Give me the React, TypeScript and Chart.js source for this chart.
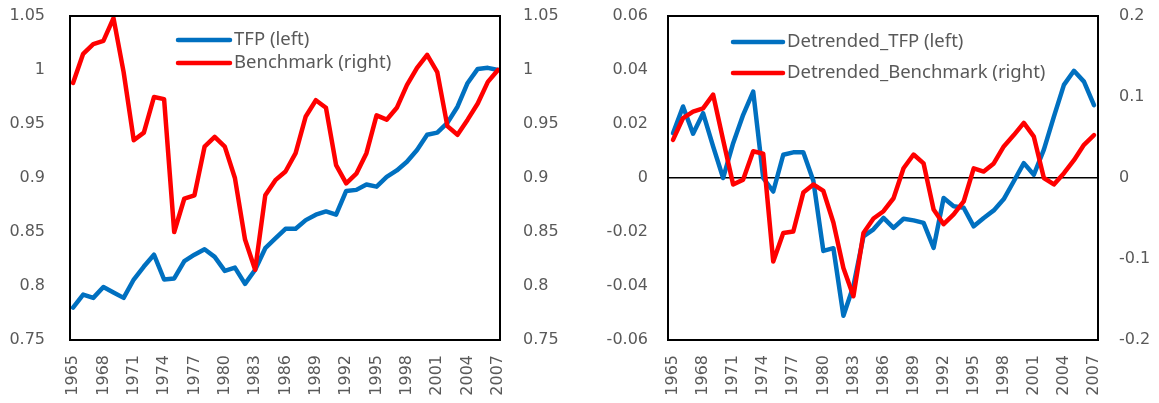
import React, { useEffect, useRef } from 'react';
import { Chart, registerables } from 'chart.js';

Chart.register(...registerables);

const years = [
  1965, 1966, 1967, 1968, 1969, 1970, 1971, 1972, 1973, 1974, 1975, 1976, 1977, 1978, 1979,
  1980, 1981, 1982, 1983, 1984, 1985, 1986, 1987, 1988, 1989, 1990, 1991, 1992, 1993, 1994,
  1995, 1996, 1997, 1998, 1999, 2000, 2001, 2002, 2003, 2004, 2005, 2006, 2007,
];
const tickYears = [1965, 1968, 1971, 1974, 1977, 1980, 1983, 1986, 1989, 1992, 1995, 1998, 2001, 2004, 2007];

const tfp = [
  0.780, 0.792, 0.789, 0.799, 0.794, 0.789, 0.806, 0.818, 0.829, 0.806, 0.807, 0.823, 0.829, 0.834, 0.827,
  0.814, 0.817, 0.802, 0.815, 0.835, 0.844, 0.853, 0.853, 0.861, 0.866, 0.869, 0.866, 0.888, 0.889, 0.894,
  0.892, 0.901, 0.907, 0.915, 0.926, 0.940, 0.942, 0.951, 0.966, 0.988, 1.001, 1.002, 1.000,
];
const benchmark = [
  0.988, 1.015, 1.024, 1.027, 1.048, 0.998, 0.935, 0.942, 0.975, 0.973, 0.850, 0.881, 0.884, 0.929, 0.938,
  0.929, 0.900, 0.843, 0.815, 0.884, 0.898, 0.906, 0.923, 0.957, 0.972, 0.965, 0.912, 0.895, 0.904, 0.923,
  0.958, 0.954, 0.965, 0.986, 1.002, 1.014, 0.998, 0.948, 0.940, 0.954, 0.969, 0.989, 1.000,
];
const detrendedTfp = [
  0.0166, 0.0265, 0.0164, 0.024, 0.0117, 0.0, 0.0129, 0.0234, 0.032, 0.0, -0.005, 0.0086, 0.0095, 0.0095, -0.001,
  -0.027, -0.026, -0.051, -0.040, -0.0216, -0.019, -0.0148, -0.0185, -0.0151, -0.0157, -0.0166, -0.0259, -0.0074, -0.0105, -0.011,
  -0.0179, -0.0148, -0.012, -0.0078, -0.0012, 0.0055, 0.0012, 0.0105, 0.0227, 0.0345, 0.0397, 0.0357, 0.027,
];
const detrendedBenchmark = [
  0.047, 0.074, 0.082, 0.086, 0.103, 0.047, -0.008, -0.002, 0.033, 0.030, -0.103, -0.068, -0.066, -0.018, -0.008,
  -0.016, -0.055, -0.111, -0.146, -0.068, -0.050, -0.041, -0.025, 0.012, 0.029, 0.018, -0.039, -0.057, -0.045, -0.029,
  0.012, 0.008, 0.018, 0.039, 0.053, 0.068, 0.051, 0.000, -0.008, 0.006, 0.022, 0.041, 0.053,
];

const BLUE = '#0070C0';
const RED = '#FF0000';
const TEXT = '#595959';
const TICK_FONT = { family: 'DejaVu Sans', size: 16 };
const LEGEND_FONT = '18.5px "Noto Sans"';

const fmt = (v: number) => String(Number(Number(v).toFixed(2)));

const plotBox = {
  id: 'plotBox',
  afterDatasetsDraw(chart: any) {
    const { ctx, chartArea: a } = chart;
    ctx.save();
    ctx.strokeStyle = '#000';
    ctx.lineWidth = 2;
    ctx.strokeRect(a.left, a.top, a.right - a.left, a.bottom - a.top);
    ctx.restore();
  },
};

const innerLegend = {
  id: 'innerLegend',
  afterDraw(chart: any, _args: any, opts: any) {
    const { ctx } = chart;
    ctx.save();
    ctx.font = LEGEND_FONT;
    ctx.textBaseline = 'middle';
    chart.data.datasets.forEach((ds: any, i: number) => {
      const y = opts.y + i * opts.dy;
      ctx.strokeStyle = ds.borderColor;
      ctx.lineWidth = 4.5;
      ctx.lineCap = 'round';
      ctx.beginPath();
      ctx.moveTo(opts.x, y);
      ctx.lineTo(opts.x + opts.len, y);
      ctx.stroke();
      ctx.fillStyle = TEXT;
      ctx.fillText(ds.label, opts.x + opts.len + 4, y);
    });
    ctx.restore();
  },
};

type PanelCfg = {
  labels: [string, string];
  left: number[];
  right: number[];
  leftRange: [number, number, number];
  rightRange: [number, number, number];
  leftW: number;
  rightW: number;
  leftPad: number;
  rightPad: number;
  xMin: number;
  xMax: number;
  zeroLine: boolean;
  legend: { x: number; y: number; dy: number; len: number };
};

const noVPad = (s: any) => {
  s.paddingTop = 0;
  s.paddingBottom = 0;
};

function makeConfig(c: PanelCfg): any {
  const lineDs = (label: string, vals: number[], color: string, axis: string, order: number) => ({
    label,
    data: years.map((yr, i) => ({ x: yr, y: vals[i] })),
    borderColor: color,
    backgroundColor: color,
    borderWidth: 4.5,
    pointRadius: 0,
    borderJoinStyle: 'round',
    borderCapStyle: 'round',
    tension: 0,
    yAxisID: axis,
    order,
  });
  return {
    type: 'line',
    data: {
      datasets: [
        lineDs(c.labels[0], c.left, BLUE, 'y', 1),
        lineDs(c.labels[1], c.right, RED, 'y1', 0),
      ],
    },
    options: {
      responsive: false,
      animation: false,
      devicePixelRatio: 1,
      layout: { padding: { top: 16, bottom: 0, left: 0, right: 0 } },
      plugins: {
        legend: { display: false },
        tooltip: { enabled: false },
        innerLegend: c.legend,
      },
      scales: {
        x: {
          type: 'linear',
          min: c.xMin,
          max: c.xMax,
          grid: { display: false, drawTicks: false },
          border: { display: false },
          afterBuildTicks: (s: any) => {
            s.ticks = tickYears.map((v) => ({ value: v }));
          },
          afterFit: (s: any) => {
            s.height = 63;
          },
          ticks: {
            autoSkip: false,
            maxRotation: 90,
            minRotation: 90,
            padding: 15,
            color: TEXT,
            font: TICK_FONT,
            callback: (v: number) => String(v),
          },
        },
        y: {
          position: 'left',
          min: c.leftRange[0],
          max: c.leftRange[1],
          grid: {
            display: c.zeroLine,
            drawTicks: false,
            lineWidth: 1.5,
            color: (ctx: any) => (ctx.tick && ctx.tick.value === 0 ? '#000' : 'rgba(0,0,0,0)'),
          },
          border: { display: false },
          afterFit: (s: any) => {
            s.width = c.leftW;
            noVPad(s);
          },
          ticks: {
            stepSize: c.leftRange[2],
            padding: c.leftPad,
            color: TEXT,
            font: TICK_FONT,
            callback: (v: number) => fmt(v),
          },
        },
        y1: {
          position: 'right',
          min: c.rightRange[0],
          max: c.rightRange[1],
          grid: { display: false, drawTicks: false },
          border: { display: false },
          afterFit: (s: any) => {
            s.width = c.rightW;
            noVPad(s);
          },
          ticks: {
            stepSize: c.rightRange[2],
            padding: c.rightPad,
            color: TEXT,
            font: TICK_FONT,
            callback: (v: number) => fmt(v),
          },
        },
      },
    },
    plugins: [plotBox, innerLegend],
  };
}

function Panel({ cfg, width }: { cfg: PanelCfg; width: number }) {
  const ref = useRef<HTMLCanvasElement | null>(null);
  useEffect(() => {
    if (!ref.current) return;
    const chart = new Chart(ref.current, makeConfig(cfg));
    return () => chart.destroy();
  }, []);
  return <canvas ref={ref} width={width} height={403} style={{ display: 'block', width, height: 403 }} />;
}

const leftPanel: PanelCfg = {
  labels: ['TFP (left)', 'Benchmark (right)'],
  left: tfp,
  right: benchmark,
  leftRange: [0.75, 1.05, 0.05],
  rightRange: [0.75, 1.05, 0.05],
  leftW: 70,
  rightW: 80,
  leftPad: 25,
  rightPad: 23,
  xMin: 1964.7,
  xMax: 2007.2,
  zeroLine: false,
  legend: { x: 178, y: 40, dy: 23, len: 52 },
};

const rightPanel: PanelCfg = {
  labels: ['Detrended_TFP (left)', 'Detrended_Benchmark (right)'],
  left: detrendedTfp,
  right: detrendedBenchmark,
  leftRange: [-0.06, 0.06, 0.02],
  rightRange: [-0.2, 0.2, 0.1],
  leftW: 88,
  rightW: 61,
  leftPad: 20,
  rightPad: 21,
  xMin: 1964.5,
  xMax: 2007.4,
  zeroLine: true,
  legend: { x: 153, y: 42, dy: 31, len: 50 },
};

export default function App() {
  useEffect(() => {
    document.body.style.margin = '0';
    document.body.style.background = '#fff';
  }, []);
  return (
    <div style={{ position: 'absolute', left: 0, top: 0, width: 1159, height: 403, display: 'flex', background: '#fff' }}>
      <Panel cfg={leftPanel} width={580} />
      <Panel cfg={rightPanel} width={579} />
    </div>
  );
}
